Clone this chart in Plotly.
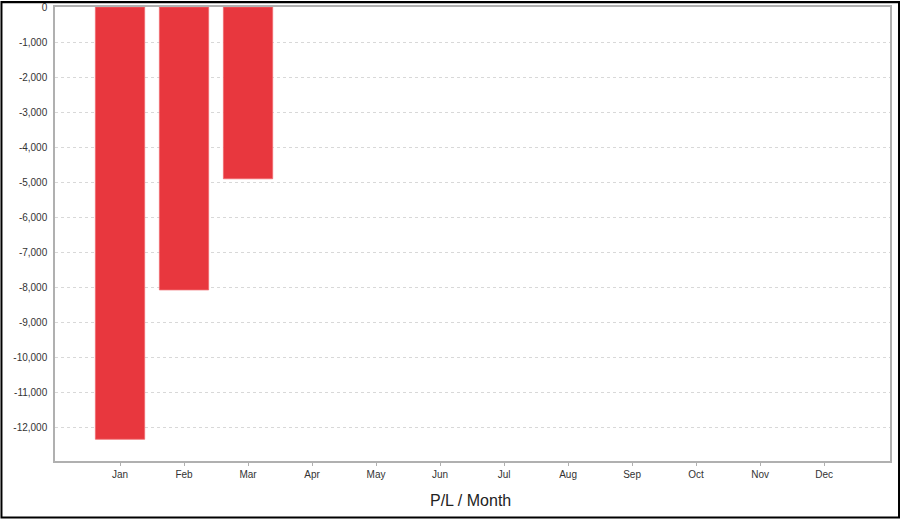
import plotly.graph_objects as go

months = ["Jan", "Feb", "Mar", "Apr", "May", "Jun", "Jul", "Aug", "Sep", "Oct", "Nov", "Dec"]
pl_values = [-12330, -8070, -4900, None, None, None, None, None, None, None, None, None]
y_tick_vals = [0, -1000, -2000, -3000, -4000, -5000, -6000, -7000, -8000, -9000, -10000, -11000, -12000]
y_tick_text = ["0", "-1,000", "-2,000", "-3,000", "-4,000", "-5,000", "-6,000", "-7,000",
               "-8,000", "-9,000", "-10,000", "-11,000", "-12,000"]
x_title = "P/L / Month"

fig = go.Figure()
fig.add_trace(go.Bar(
    x=list(range(len(months))), y=pl_values,
    marker=dict(color="#E8373E", line=dict(color="#F06A6E", width=0.8)),
    width=0.77,
    hoverinfo="skip",
))

fig.update_layout(
    width=900, height=519,
    margin=dict(l=55, r=10, t=7, b=58, autoexpand=False),
    paper_bgcolor="white", plot_bgcolor="white",
    showlegend=False,
    font=dict(family="Liberation Sans, Arial, sans-serif", color="#333333"),
    xaxis=dict(
        range=[-1.016, 12.03],
        tickvals=list(range(len(months))), ticktext=months,
        tickfont=dict(size=10, color="#333333"),
        ticks="outside", ticklen=3, tickcolor="#b0b0b0",
        showgrid=False, zeroline=False, automargin=False,
        showline=True, linecolor="#b0b0b0", linewidth=1.5, mirror=True,
    ),
    yaxis=dict(
        range=[-12950, 0],
        tickvals=y_tick_vals, ticktext=y_tick_text,
        tickfont=dict(size=10, color="#333333"),
        showgrid=True, gridcolor="#d8d8d8", griddash="3px,3px", gridwidth=1,
        zeroline=False, automargin=False,
        showline=True, linecolor="#b0b0b0", linewidth=1.5, mirror=True,
        ticks="", ticklabelstandoff=4,
    ),
    annotations=[dict(
        text=x_title, xref="paper", yref="paper", x=0.498, y=-0.086,
        xanchor="center", yanchor="middle", showarrow=False,
        font=dict(size=16, color="#222222"),
    )],
    shapes=[
        dict(
            type="rect", xref="paper", yref="paper",
            x0=-0.0641, x1=1.0108, y0=-0.1245, y1=1.0110,
            line=dict(color="black", width=2), fillcolor="rgba(0,0,0,0)",
            layer="above",
        ),
        dict(
            type="line", xref="paper", yref="paper",
            x0=-0.0641, x1=1.0108, y0=1.0105, y1=1.0105,
            line=dict(color="black", width=2), layer="above",
        ),
    ],
)

fig.write_html(
    "out.html",
    config={"displayModeBar": False},
    post_script=(
        "document.body.style.margin='0';document.body.style.padding='0';"
        "document.querySelectorAll('.plotly-graph-div').forEach(function(d){"
        "d.style.position='absolute';d.style.top='0px';d.style.left='0px';});"
    ),
)
